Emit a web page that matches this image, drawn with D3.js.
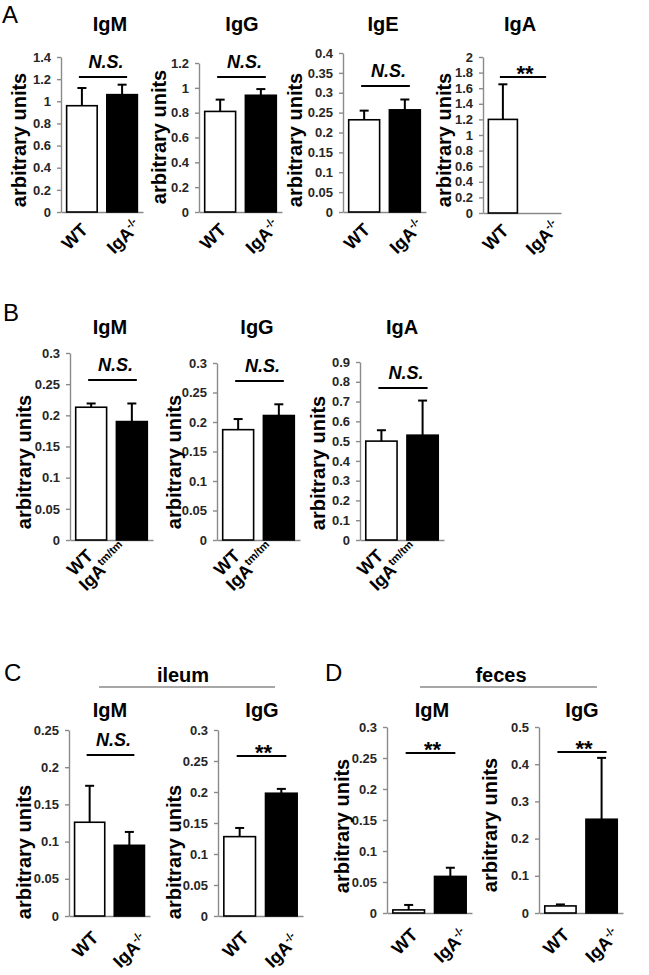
<!DOCTYPE html>
<html>
<head>
<meta charset="utf-8">
<script src="https://cdn.jsdelivr.net/npm/d3@7"></script>
<style>
  html, body { margin: 0; padding: 0; background: #fff; }
  svg { display: block; }
  text { font-family: Arial, "Liberation Sans", Helvetica, sans-serif; }
</style>
</head>
<body>
<svg id="chart" width="649" height="975"></svg>
<script>
// ---------- DATA ----------
const groups = ["WT", "KO"];
const koSupA = "-/-";
const koSupB = "tm/tm";

// Panel A (serum, IgA-/-)
const aTitles = ["IgM", "IgG", "IgE", "IgA"];
const aWT     = [0.96, 0.81, 0.232, 1.20];
const aKO     = [1.06, 0.94, 0.257, 0];
const aWTerr  = [0.16, 0.095, 0.023, 0.45];
const aKOerr  = [0.09, 0.05, 0.026, 0];
const aYmax   = [1.4, 1.2, 0.4, 2];
const aStep   = [0.2, 0.2, 0.05, 0.2];
const aSig    = ["N.S.", "N.S.", "N.S.", "**"];

// Panel B (IgA tm/tm)
const bTitles = ["IgM", "IgG", "IgA"];
const bWT     = [0.213, 0.187, 0.50];
const bKO     = [0.190, 0.211, 0.53];
const bWTerr  = [0.006, 0.018, 0.055];
const bKOerr  = [0.029, 0.019, 0.175];
const bYmax   = [0.3, 0.3, 0.9];
const bStep   = [0.05, 0.05, 0.1];
const bSig    = ["N.S.", "N.S.", "N.S."];

// Panel C (ileum)
const cHeader = "ileum";
const cTitles = ["IgM", "IgG"];
const cWT     = [0.126, 0.128];
const cKO     = [0.095, 0.198];
const cWTerr  = [0.049, 0.014];
const cKOerr  = [0.018, 0.007];
const cYmax   = [0.25, 0.3];
const cStep   = [0.05, 0.05];
const cSig    = ["N.S.", "**"];

// Panel D (feces)
const dHeader = "feces";
const dTitles = ["IgM", "IgG"];
const dWT     = [0.005, 0.019];
const dKO     = [0.059, 0.252];
const dWTerr  = [0.008, 0.004];
const dKOerr  = [0.014, 0.165];
const dYmax   = [0.3, 0.5];
const dStep   = [0.05, 0.1];
const dSig    = ["**", "**"];

const yLabel = "arbitrary units";

// ---------- LAYOUT ----------
const aLayout = [
  {ax: 61,  w: 82, top: 57, zero: 212, lx: 26,  ly: 140, sigY: 77, tx: 110, ty: 31},
  {ax: 199, w: 83, top: 63, zero: 212, lx: 166, ly: 137, sigY: 77, tx: 242, ty: 31},
  {ax: 343, w: 83, top: 53, zero: 212, lx: 302, ly: 140, sigY: 86, tx: 383, ty: 31},
  {ax: 483, w: 78, top: 57, zero: 213, lx: 451, ly: 140, sigY: 77, tx: 520, ty: 31}
];
const bLayout = [
  {ax: 70,  w: 83, top: 353, zero: 540, lx: 31,  ly: 462, sigY: 380, tx: 110, ty: 334},
  {ax: 217, w: 83, top: 363, zero: 540, lx: 181, ly: 462, sigY: 381, tx: 257, ty: 334},
  {ax: 360, w: 84, top: 362, zero: 540, lx: 325, ly: 463, sigY: 388, tx: 402, ty: 334}
];
const cLayout = [
  {ax: 69,  w: 81, top: 730, zero: 916, lx: 31,  ly: 852, sigY: 755, tx: 110, ty: 717},
  {ax: 218, w: 85, top: 730, zero: 916, lx: 181, ly: 852, sigY: 756, tx: 262, ty: 717}
];
const dLayout = [
  {ax: 387, w: 85, top: 727, zero: 913, lx: 349, ly: 826, sigY: 753, tx: 432, ty: 717},
  {ax: 539, w: 84, top: 727, zero: 913, lx: 497, ly: 825, sigY: 752, tx: 582, ty: 717}
];
const labelOff = {
  A: {wt: [7, 19],  ko: [20, 15], sup: koSupA},
  B: {wt: [3, 17],  ko: [-4, 10], sup: koSupB},
  C: {wt: [10, 23], ko: [19, 25], sup: koSupA},
  D: {wt: [10, 23], ko: [19, 23], sup: koSupA}
};

const svg = d3.select("#chart");
svg.append("rect").attr("width", 649).attr("height", 975).attr("fill", "#fff");

const fmt = v => String(+v.toFixed(3));

function drawSub(L, title, wt, ko, wtErr, koErr, ymax, step, sig, off) {
  const g = svg.append("g");
  const x = d3.scaleBand().domain(groups).range([L.ax, L.ax + L.w])
    .paddingInner(0.24).paddingOuter(0.14);
  const y = d3.scaleLinear().domain([0, ymax]).range([L.zero, L.top]);
  const ticks = d3.range(0, ymax + step / 2, step);

  // y axis
  const ya = g.append("g").attr("transform", `translate(${L.ax},0)`)
    .call(d3.axisLeft(y).tickValues(ticks).tickFormat(fmt).tickSize(4).tickSizeOuter(0).tickPadding(6));
  ya.select(".domain").attr("stroke", "#8a8a8a").attr("stroke-width", 1.4);
  ya.selectAll(".tick line").attr("stroke", "#8a8a8a").attr("stroke-width", 1.4);
  ya.selectAll(".tick text").attr("font-size", 13).attr("font-weight", "bold")
    .attr("fill", "#262626").attr("font-family", "Arial, 'Liberation Sans', sans-serif");

  // x baseline
  const xa = g.append("g").attr("transform", `translate(0,${L.zero})`)
    .call(d3.axisBottom(x).tickSize(0).tickSizeOuter(0).tickFormat(""));
  xa.select(".domain").attr("stroke", "#8a8a8a").attr("stroke-width", 1.4);

  const vals = [wt, ko], errs = [wtErr, koErr];
  const bw = x.bandwidth();
  groups.forEach((grp, i) => {
    const v = vals[i];
    const cx = x(grp) + bw / 2;
    if (v > 0) {
      g.append("rect")
        .attr("x", x(grp)).attr("y", y(v))
        .attr("width", bw).attr("height", y(0) - y(v))
        .attr("fill", i === 0 ? "#fff" : "#000")
        .attr("stroke", "#000").attr("stroke-width", 1.6);
      if (errs[i] > 0) {
        g.append("line").attr("x1", cx).attr("x2", cx)
          .attr("y1", y(v)).attr("y2", y(v + errs[i]))
          .attr("stroke", "#000").attr("stroke-width", 2);
        g.append("line").attr("x1", cx - 4.5).attr("x2", cx + 4.5)
          .attr("y1", y(v + errs[i])).attr("y2", y(v + errs[i]))
          .attr("stroke", "#000").attr("stroke-width", 2);
      }
    }
    // x label, rotated -45 degrees
    const o = i === 0 ? off.wt : off.ko;
    const lg = g.append("g")
      .attr("transform", `translate(${cx + o[0]},${L.zero + o[1]})`);
    const t = lg.append("text")
      .attr("transform", "rotate(-45)")
      .attr("x", 0).attr("y", 0)
      .attr("text-anchor", "end").attr("font-size", 18).attr("font-weight", "bold")
      .attr("fill", "#000");
    if (i === 0) {
      t.text("WT");
    } else {
      t.append("tspan").text("IgA");
      t.append("tspan").attr("font-size", 11).attr("dy", -7).text(off.sup);
    }
  });

  // title
  g.append("text").attr("x", L.tx).attr("y", L.ty).attr("text-anchor", "middle")
    .attr("font-size", 20).attr("font-weight", "bold").text(title);

  // y label
  g.append("text").attr("transform", `translate(${L.lx},${L.ly}) rotate(-90)`)
    .attr("text-anchor", "middle").attr("font-size", 20).attr("font-weight", "bold")
    .text(yLabel);

  // significance
  const x1 = x("WT") + bw / 2 - 3, x2 = x("KO") + bw / 2 + 5;
  g.append("line").attr("x1", x1).attr("x2", x2).attr("y1", L.sigY).attr("y2", L.sigY)
    .attr("stroke", "#000").attr("stroke-width", 2);
  const st = g.append("text").attr("x", (x1 + x2) / 2 + (sig === "**" ? 2 : 3))
    .attr("text-anchor", "middle").attr("font-weight", "bold").text(sig);
  if (sig === "**") {
    st.attr("y", L.sigY + 4).attr("font-size", 22);
  } else {
    st.attr("y", L.sigY - 9).attr("font-size", 18).attr("font-style", "italic");
  }
}

aTitles.forEach((t, i) => drawSub(aLayout[i], t, aWT[i], aKO[i], aWTerr[i], aKOerr[i], aYmax[i], aStep[i], aSig[i], labelOff.A));
bTitles.forEach((t, i) => drawSub(bLayout[i], t, bWT[i], bKO[i], bWTerr[i], bKOerr[i], bYmax[i], bStep[i], bSig[i], labelOff.B));
cTitles.forEach((t, i) => drawSub(cLayout[i], t, cWT[i], cKO[i], cWTerr[i], cKOerr[i], cYmax[i], cStep[i], cSig[i], labelOff.C));
dTitles.forEach((t, i) => drawSub(dLayout[i], t, dWT[i], dKO[i], dWTerr[i], dKOerr[i], dYmax[i], dStep[i], dSig[i], labelOff.D));

// panel letters
const letters = [["A", 2, 23], ["B", 3, 321], ["C", 4, 681], ["D", 325, 681]];
svg.selectAll(".plabel").data(letters).enter().append("text")
  .attr("class", "plabel").attr("x", d => d[1]).attr("y", d => d[2])
  .attr("font-family", "'Open Sans', 'DejaVu Sans', sans-serif").attr("font-size", 24)
  .attr("fill", "#000").text(d => d[0]);

// section headers
const headers = [[cHeader, 183, 99, 275], [dHeader, 501, 420, 597]];
headers.forEach(h => {
  svg.append("text").attr("x", h[1]).attr("y", 682).attr("text-anchor", "middle")
    .attr("font-size", 20).attr("font-weight", "bold").text(h[0]);
  svg.append("line").attr("x1", h[2]).attr("x2", h[3]).attr("y1", 687).attr("y2", 687)
    .attr("stroke", "#8a8a8a").attr("stroke-width", 1.6);
});
</script>
</body>
</html>
